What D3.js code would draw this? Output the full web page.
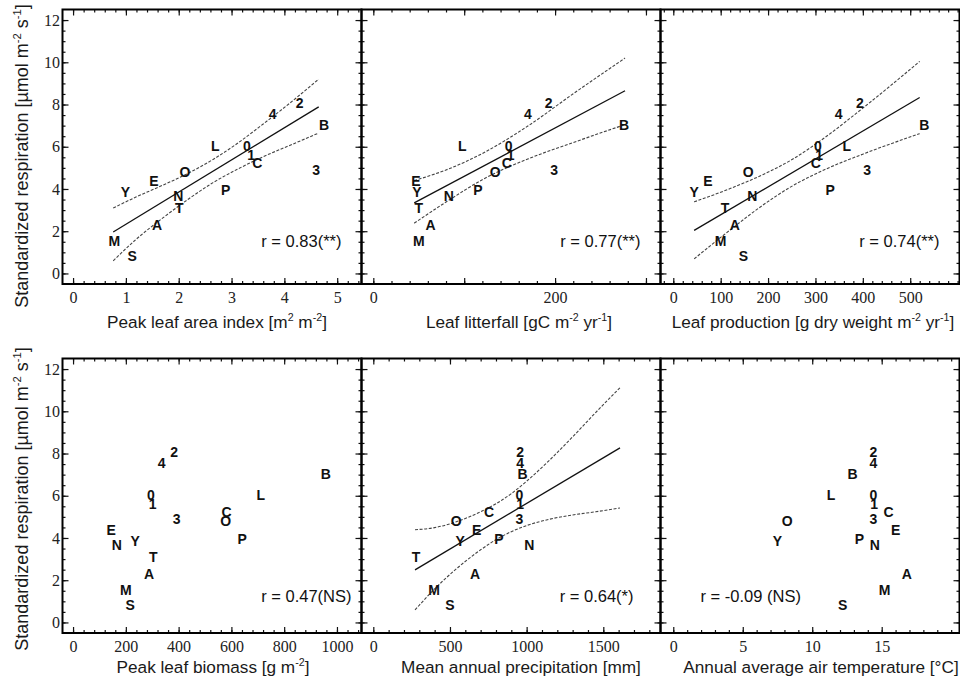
<!DOCTYPE html>
<html>
<head>
<meta charset="utf-8">
<script src="https://cdn.jsdelivr.net/npm/d3@7/dist/d3.min.js"></script>
<style>
  body { margin: 0; background: #fff; }
  svg { display: block; }
</style>
</head>
<body>
<svg id="chart"></svg>
<script>
// site codes, same order in every array below
const sites = ["A", "B", "C", "E", "L", "M", "N", "O", "P", "S", "T", "Y", "0", "1", "2", "3", "4"];

// standardized respiration [umol m-2 s-1]
const respiration = [2.28, 7.03, 5.25, 4.36, 6.03, 1.52, 3.68, 4.81, 3.96, 0.85, 3.08, 3.84, 6.04, 5.59, 8.06, 4.92, 7.54];

// drivers (null = site not plotted in that panel)
const leafAreaIndex  = [1.59, 4.75, 3.49, 1.53, 2.69, 0.78, 1.99, 2.12, 2.89, 1.12, 2.01, 0.99, 3.29, 3.37, 4.29, 4.60, 3.78];
const leafLitterfall = [63, 276, 147, 47, 98, 50, 83, 134, 115, null, 50, 48, 149, 151, 193, 199, 170];
const leafProduction = [130, 530, 301, 73, 366, 100, 167, 158, 331, 148, 109, 44, 305, 308, 394, 409, 349];
const leafBiomass    = [288, 958, 582, 144, 711, 200, 166, 578, 641, 216, 304, 235, 295, 302, 383, 393, 336];
const precipitation  = [663, 974, 755, 674, null, 396, 1018, 540, 820, 500, 279, 566, 952, 957, 957, 952, 957];
const airTemperature = [16.8, 12.9, 15.5, 16.0, 11.35, 15.2, 14.5, 8.2, 13.4, 12.2, null, 7.5, 14.4, 14.45, 14.4, 14.4, 14.4];

const correlations = ["r = 0.83(**)", "r = 0.77(**)", "r = 0.74(**)", "r = 0.47(NS)", "r = 0.64(*)", "r = -0.09 (NS)"];

// regression lines + confidence bands: [x, respiration]
const laiFit   = [[0.76, 1.96], [4.65, 7.89]];
const laiUpper = [[0.76, 3.1], [1.2, 3.63], [1.7, 4.18], [2.2, 4.77], [2.65, 5.4], [3.1, 6.14], [3.6, 7.08], [4.1, 8.06], [4.65, 9.2]];
const laiLower = [[0.76, 0.6], [1.2, 1.63], [1.7, 2.63], [2.2, 3.55], [2.65, 4.3], [3.1, 4.92], [3.6, 5.53], [4.1, 6.06], [4.65, 6.65]];

const litterFit   = [[45, 3.34], [277, 8.65]];
const litterUpper = [[45, 4.4], [80, 4.9], [123, 5.75], [170, 6.98], [220, 8.51], [277, 10.2]];
const litterLower = [[45, 2.38], [80, 3.38], [123, 4.51], [170, 5.42], [220, 6.2], [277, 7.05]];

const prodFit   = [[44, 2.04], [520, 8.33]];
const prodUpper = [[44, 3.39], [120, 4.02], [190, 4.69], [248, 5.36], [320, 6.44], [400, 7.83], [520, 10.04]];
const prodLower = [[44, 0.69], [120, 2.06], [190, 3.25], [248, 4.1], [320, 4.92], [400, 5.65], [520, 6.62]];

const precipFit   = [[272, 2.49], [1609, 8.27]];
const precipUpper = [[272, 4.39], [400, 4.49], [550, 4.79], [700, 5.24], [800, 5.62], [900, 6.1], [1000, 6.69], [1150, 7.69], [1300, 8.79], [1450, 9.94], [1609, 11.12]];
const precipLower = [[272, 0.59], [400, 1.59], [550, 2.59], [700, 3.44], [800, 3.92], [900, 4.3], [1000, 4.59], [1150, 4.89], [1300, 5.09], [1450, 5.24], [1609, 5.42]];

// tick values
const respTicks       = [0, 2, 4, 6, 8, 10, 12];
const laiTicks        = [0, 1, 2, 3, 4, 5];
const litterTicks     = [0, 100, 200, 300];
const litterLabelled  = [0, 200];
const prodTicks       = [0, 100, 200, 300, 400, 500];
const biomassTicks    = [0, 200, 400, 600, 800, 1000];
const precipTicks     = [0, 500, 1000, 1500];
const tempTicks       = [0, 5, 10, 15];

const yTitle = "Standardized respiration [µmol m^{-2} s^{-1}]";

const panels = [
  { xv: leafAreaIndex, domain: [-0.2, 5.46], ticks: laiTicks, labelled: laiTicks, minor: 0.2,
    title: "Peak leaf area index [m^{2} m^{-2}]", titleDx: 5,
    fit: laiFit, upper: laiUpper, lower: laiLower, rAnchor: "end", rX: -20, rY: 237 },
  { xv: leafLitterfall, domain: [-13, 316], ticks: litterTicks, labelled: litterLabelled, minor: 20,
    title: "Leaf litterfall [gC m^{-2} yr^{-1}]", titleDx: 8,
    fit: litterFit, upper: litterUpper, lower: litterLower, rAnchor: "end", rX: -20, rY: 237 },
  { xv: leafProduction, domain: [-27, 604], ticks: prodTicks, labelled: prodTicks, minor: 20,
    title: "Leaf production [g dry weight m^{-2} yr^{-1}]", titleDx: 3,
    fit: prodFit, upper: prodUpper, lower: prodLower, rAnchor: "end", rX: -20, rY: 237 },
  { xv: leafBiomass, domain: [-40, 1093], ticks: biomassTicks, labelled: biomassTicks, minor: 40,
    title: "Peak leaf biomass [g m^{-2}]", titleDx: 1,
    rAnchor: "end", rX: -10, rY: 243 },
  { xv: precipitation, domain: [-77, 1873], ticks: precipTicks, labelled: precipTicks, minor: 100,
    title: "Mean annual precipitation [mm]", titleDx: 10,
    fit: precipFit, upper: precipUpper, lower: precipLower, rAnchor: "end", rX: -27, rY: 243 },
  { xv: airTemperature, domain: [-0.92, 20.6], ticks: tempTicks, labelled: tempTicks, minor: 1,
    title: "Annual average air temperature [°C]", titleDx: 11,
    rAnchor: "start", rX: 40, rY: 243 }
];

const W = 960, H = 681;
const colLeft = [62.5, 361.5, 660.5];
const colWidth = 299;
const rowTop = [9.5, 358.5];
const rowHeight = 274.5;
const titleBase = [328, 673];
const yTitleMid = [156, 499];

const sansFont = "'Liberation Sans', Arial, Helvetica, sans-serif";
const serifFont = "'Liberation Serif', 'Times New Roman', serif";

let svg = d3.select("#chart")
  .attr("width", W)
  .attr("height", H);

// text with ^{...} superscripts
const richText = (sel, str, size) => {
  let parts = str.split(/\^\{([^}]*)\}/);
  let shifted = false;
  parts.forEach((t, k) => {
    if (t === "") return;
    let ts = sel.append("tspan").text(t);
    if (k % 2 === 1) {
      ts.attr("font-size", size * 0.62).attr("dy", shifted ? 0 : -size * 0.38);
      shifted = true;
    } else if (shifted) {
      ts.attr("dy", size * 0.38);
      shifted = false;
    }
  });
};

const styleAxis = (g) => {
  g.select(".domain").remove();
  g.selectAll(".tick line").attr("stroke", "#111").attr("stroke-width", 1.2);
  g.selectAll("text")
    .attr("font-family", serifFont)
    .attr("font-size", 16)
    .attr("fill", "#222");
};

const stepRange = (lo, hi, step) => d3.range(Math.ceil(lo / step) * step, hi, step)
  .filter(v => v > lo + 1e-9 && v < hi - 1e-9);

panels.forEach((p, i) => {
  let row = Math.floor(i / 3), col = i % 3;
  let x0 = colLeft[col], y0 = rowTop[row];
  let x1 = x0 + colWidth, y1 = y0 + rowHeight;

  let xscale = d3.scaleLinear().domain(p.domain).range([x0, x1]);
  let yscale = d3.scaleLinear().domain([-0.5, 12.5]).range([y1, y0]);

  let g = svg.append("g");

  let minorX = stepRange(p.domain[0], p.domain[1], p.minor);
  let minorY = stepRange(-0.5, 12.5, 0.5);
  let fmtX = d => p.labelled.includes(d) ? d : "";

  // minor ticks, all four sides, pointing inward
  g.append("g").attr("transform", `translate(0,${y1})`)
    .call(d3.axisBottom(xscale).tickValues(minorX).tickSize(-3).tickFormat("")).call(styleAxis);
  g.append("g").attr("transform", `translate(0,${y0})`)
    .call(d3.axisTop(xscale).tickValues(minorX).tickSize(-3).tickFormat("")).call(styleAxis);
  g.append("g").attr("transform", `translate(${x0},0)`)
    .call(d3.axisLeft(yscale).tickValues(minorY).tickSize(-3).tickFormat("")).call(styleAxis);
  g.append("g").attr("transform", `translate(${x1},0)`)
    .call(d3.axisRight(yscale).tickValues(minorY).tickSize(-3).tickFormat("")).call(styleAxis);

  // major ticks
  g.append("g").attr("transform", `translate(0,${y1})`)
    .call(d3.axisBottom(xscale).tickValues(p.ticks).tickSize(-6).tickPadding(8).tickFormat(fmtX)).call(styleAxis);
  g.append("g").attr("transform", `translate(0,${y0})`)
    .call(d3.axisTop(xscale).tickValues(p.ticks).tickSize(-6).tickFormat("")).call(styleAxis);
  g.append("g").attr("transform", `translate(${x0},0)`)
    .call(d3.axisLeft(yscale).tickValues(respTicks).tickSize(-6).tickPadding(2.5)
      .tickFormat(col === 0 ? d3.format("d") : "")).call(styleAxis);
  g.append("g").attr("transform", `translate(${x1},0)`)
    .call(d3.axisRight(yscale).tickValues(respTicks).tickSize(-6).tickFormat("")).call(styleAxis);

  // frame
  g.append("rect")
    .attr("x", x0).attr("y", y0)
    .attr("width", colWidth).attr("height", rowHeight)
    .attr("fill", "none").attr("stroke", "#000").attr("stroke-width", 2);

  // regression line and confidence band
  if (p.fit) {
    let line = d3.line().x(d => xscale(d[0])).y(d => yscale(d[1]));
    let curve = d3.line().x(d => xscale(d[0])).y(d => yscale(d[1])).curve(d3.curveMonotoneX);
    g.append("path").attr("d", line(p.fit))
      .attr("fill", "none").attr("stroke", "#111").attr("stroke-width", 1.3);
    [p.upper, p.lower].forEach(band => {
      g.append("path").attr("d", curve(band))
        .attr("fill", "none").attr("stroke", "#444").attr("stroke-width", 1.1)
        .attr("stroke-dasharray", "3,1.6");
    });
  }

  // site labels
  let pts = sites.map((s, j) => ({ s, x: p.xv[j], y: respiration[j] })).filter(d => d.x != null);
  g.selectAll("text.site").data(pts).enter().append("text")
    .attr("class", "site")
    .attr("x", d => xscale(d.x))
    .attr("y", d => yscale(d.y))
    .attr("dy", "0.36em")
    .attr("text-anchor", "middle")
    .attr("font-family", sansFont)
    .attr("font-weight", "bold")
    .attr("font-size", 14)
    .attr("fill", "#111")
    .text(d => d.s);

  // correlation annotation
  g.append("text")
    .attr("x", p.rAnchor === "end" ? x1 + p.rX : x0 + p.rX)
    .attr("y", y0 + p.rY)
    .attr("text-anchor", p.rAnchor)
    .attr("font-family", sansFont)
    .attr("font-size", 16.5)
    .attr("fill", "#111")
    .text(correlations[i]);

  // x title
  let t = g.append("text")
    .attr("x", x0 + colWidth / 2 + p.titleDx)
    .attr("y", titleBase[row])
    .attr("text-anchor", "middle")
    .attr("font-family", sansFont)
    .attr("font-size", 17.2)
    .attr("fill", "#1a1a1a");
  richText(t, p.title, 17.2);
});

// y titles, one per row
yTitleMid.forEach(cy => {
  let t = svg.append("text")
    .attr("transform", `translate(28,${cy}) rotate(-90)`)
    .attr("text-anchor", "middle")
    .attr("font-family", sansFont)
    .attr("font-size", 18)
    .attr("fill", "#1a1a1a");
  richText(t, yTitle, 18);
});
</script>
</body>
</html>
